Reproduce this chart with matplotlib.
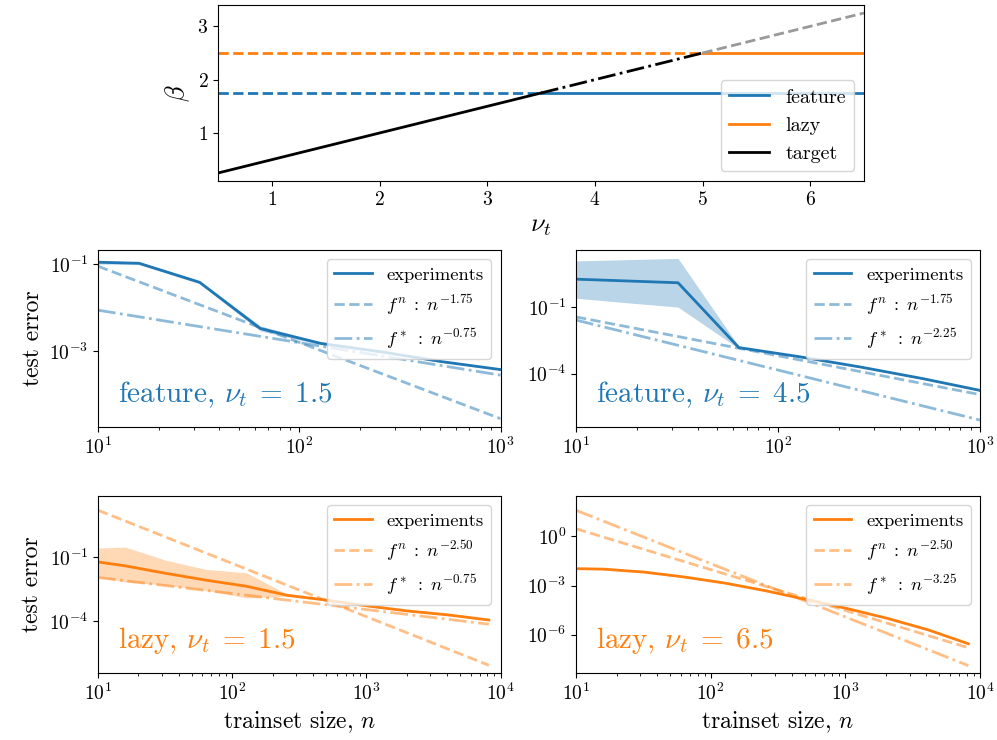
import matplotlib
matplotlib.use("Agg")
from matplotlib import pyplot as plt
from matplotlib import ticker

plt.rcParams["font.family"] = "serif"
plt.rcParams["font.serif"] = ["cmr10", "DejaVu Serif"]
plt.rcParams["mathtext.fontset"] = "cm"
plt.rcParams["axes.formatter.use_mathtext"] = True

blue = "#1f77b4"
orange = "#ff7f0e"

# top panel: exponents vs target smoothness
nu_lims = [0.5, 6.5]
nu_feature_switch = 3.5
nu_lazy_switch = 5.0
beta_feature = 1.75
beta_lazy = 2.5
target_nu = [0.5, 3.5, 5.0, 6.5]
target_beta = [0.25, 1.75, 2.5, 3.25]

# learning curves
n_feat = [10, 16, 32, 64, 128, 256, 512, 1024]
n_lazy = [10, 16, 32, 64, 128, 256, 512, 1024, 2048, 4096, 8192]

feat15_mean = [0.11, 0.104, 0.038, 0.0033, 1.5e-3, 9.6e-4, 5.7e-4, 3.7e-4]
feat15_lo = [0.10, 0.097, 0.035, 0.0029, 1.4e-3, 9.2e-4, 5.5e-4, 3.6e-4]
feat15_hi = [0.12, 0.111, 0.041, 0.0038, 1.6e-3, 1.0e-3, 5.9e-4, 3.8e-4]

feat45_mean = [1.8, 1.55, 1.24, 1.5e-3, 5.8e-4, 2.0e-4, 6.2e-5, 1.7e-5]
feat45_lo = [0.25, 0.17, 0.1, 1.35e-3, 5.4e-4, 1.9e-4, 5.9e-5, 1.6e-5]
feat45_hi = [12, 13.3, 15.5, 1.7e-3, 6.2e-4, 2.1e-4, 6.5e-5, 1.8e-5]

lazy15_mean = [0.058, 0.038, 0.017, 8.1e-3, 4.2e-3, 1.6e-3, 9.3e-4, 5.0e-4, 2.9e-4, 1.9e-4, 1.1e-4]
lazy15_lo = [0.0116, 6.7e-3, 4.7e-3, 2.7e-3, 1.2e-3, 1.4e-3, 8.6e-4, 4.7e-4, 2.75e-4, 1.8e-4, 1.05e-4]
lazy15_hi = [0.26, 0.29, 0.07, 0.026, 0.018, 1.8e-3, 1.0e-3, 5.3e-4, 3.05e-4, 2.0e-4, 1.15e-4]

lazy65_mean = [0.0107, 0.0100, 6.6e-3, 3.3e-3, 1.4e-3, 4.8e-4, 1.4e-4, 4.0e-5, 1.0e-5, 2.0e-6, 2.8e-7]
lazy65_lo = [0.0098, 0.0092, 6.1e-3, 3.05e-3, 1.3e-3, 4.45e-4, 1.3e-4, 3.7e-5, 9.3e-6, 1.85e-6, 2.6e-7]
lazy65_hi = [0.0116, 0.0108, 7.1e-3, 3.55e-3, 1.5e-3, 5.15e-4, 1.5e-4, 4.3e-5, 1.07e-5, 2.15e-6, 3.0e-7]

# fitted power laws, values at the two ends of the n range
feat_ends = [10, 1000]
lazy_ends = [10, 8192]
feat15_fn = [0.089, 2.8e-5]
feat15_fs = [8.7e-3, 2.8e-4]
feat45_fn = [0.036, 1.15e-5]
feat45_fs = [0.026, 8.2e-7]
lazy15_fn = [15.5, 8.3e-7]
lazy15_fs = [0.0108, 7.0e-5]
lazy65_fn = [2.9, 1.6e-7]
lazy65_fs = [39, 1.3e-8]

W, H = 997, 740
fig = plt.figure(figsize=(W / 100, H / 100), dpi=100)


def pix_axes(left, top, right, bottom):
    return fig.add_axes([left / W, 1 - bottom / H, (right - left) / W, (bottom - top) / H])


# ---- top panel
ax = pix_axes(218, 5, 864, 181)
ax.plot([nu_lims[0], nu_feature_switch], [beta_feature] * 2, "--", color=blue, lw=2)
ax.plot([nu_feature_switch, nu_lims[1]], [beta_feature] * 2, "-", color=blue, lw=2, label="feature")
ax.plot([nu_lims[0], nu_lazy_switch], [beta_lazy] * 2, "--", color=orange, lw=2)
ax.plot([nu_lazy_switch, nu_lims[1]], [beta_lazy] * 2, "-", color=orange, lw=2, label="lazy")
ax.plot(target_nu[0:2], target_beta[0:2], "-", color="black", lw=2, label="target")
ax.plot(target_nu[1:3], target_beta[1:3], "-.", color="black", lw=2)
ax.plot(target_nu[2:4], target_beta[2:4], "--", color="#999999", lw=2)
ax.set_xlim(nu_lims)
ax.set_ylim(0.1, 3.4)
ax.set_xticks([1, 2, 3, 4, 5, 6])
ax.set_yticks([1, 2, 3])
ax.tick_params(labelsize=14)
ax.set_xlabel(r"$\nu_t$", fontsize=19)
ax.set_ylabel(r"$\beta$", fontsize=19)
ax.legend(loc="lower right", fontsize=14.5)

# ---- learning curves
panels = [
    ((98, 250, 500.5, 427), n_feat, feat15_mean, feat15_lo, feat15_hi, feat_ends, feat15_fn, feat15_fs,
     blue, "1.75", "0.75", r"feature, $\nu_t\;=\;1.5$", (1e1, 1e3), (1.8e-5, 0.21), [1e-3, 1e-1]),
    ((576, 250, 980, 427), n_feat, feat45_mean, feat45_lo, feat45_hi, feat_ends, feat45_fn, feat45_fs,
     blue, "1.75", "2.25", r"feature, $\nu_t\;=\;4.5$", (1e1, 1e3), (4e-7, 37), [1e-4, 1e-1]),
    ((98, 496, 500.5, 673), n_lazy, lazy15_mean, lazy15_lo, lazy15_hi, lazy_ends, lazy15_fn, lazy15_fs,
     orange, "2.50", "0.75", r"lazy, $\nu_t\;=\;1.5$", (1e1, 1e4), (3.6e-7, 72), [1e-4, 1e-1]),
    ((576, 496, 980, 673), n_lazy, lazy65_mean, lazy65_lo, lazy65_hi, lazy_ends, lazy65_fn, lazy65_fs,
     orange, "2.50", "3.25", r"lazy, $\nu_t\;=\;6.5$", (1e1, 1e4), (4.6e-9, 290), [1e-6, 1e-3, 1e0]),
]

for i, (box, n, mean, lo, hi, ends, fn, fs, col, en, es, title, xl, yl, yt) in enumerate(panels):
    ax = pix_axes(*box)
    ax.fill_between(n, lo, hi, color=col, alpha=0.3, lw=0)
    ax.plot(n, mean, "-", color=col, lw=2, label="experiments")
    ax.plot(ends, fn, "--", color=col, lw=2, alpha=0.5, label=r"$f^n\;:\;n^{-%s}$" % en)
    ax.plot(ends, fs, "-.", color=col, lw=2, alpha=0.5, label=r"$f^*\;:\;n^{-%s}$" % es)
    ax.set_xscale("log")
    ax.set_yscale("log")
    ax.set_xlim(xl)
    ax.set_ylim(yl)
    ax.set_yticks(yt)
    ax.yaxis.set_minor_locator(ticker.NullLocator())
    ax.tick_params(labelsize=14)
    ax.text(0.05, 0.14, title, transform=ax.transAxes, color=col, fontsize=21, va="baseline")
    ax.legend(loc="upper right", fontsize=13.4)
    if i % 2 == 0:
        ax.set_ylabel("test error", fontsize=17)
    if i >= 2:
        ax.set_xlabel(r"trainset size, $n$", fontsize=17)

plt.savefig("out.png", dpi=100)
